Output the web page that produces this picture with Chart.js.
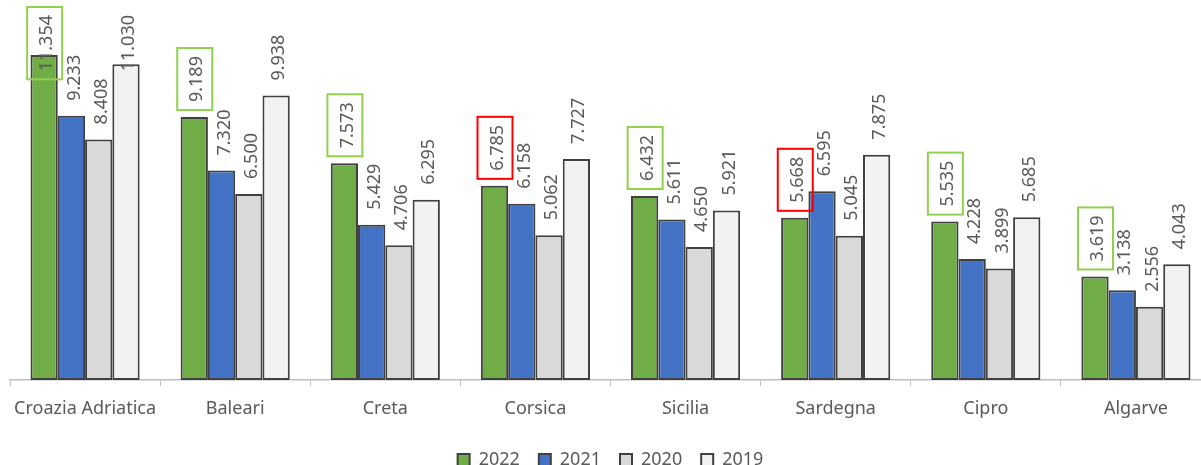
<!DOCTYPE html>
<html lang="it">
<head>
  <meta charset="UTF-8" />
  <title>Prezzi medi per destinazione</title>
  <script src="https://cdn.jsdelivr.net/npm/chart.js"></script>
  <style>
    html, body {
      margin: 0;
      padding: 0;
      background: #fff;
      overflow: hidden;
    }
    .chart-box {
      position: relative;
      width: 1212px;
      height: 481px;
    }
  </style>
</head>
<body>
  <div class="chart-box"><canvas id="chart"></canvas></div>

  <script>
    const categories = ["Croazia Adriatica", "Baleari", "Creta", "Corsica", "Sicilia", "Sardegna", "Cipro", "Algarve"];
    const years = ["2022", "2021", "2020", "2019"];
    const values2022 = [11.354, 9.189, 7.573, 6.785, 6.432, 5.668, 5.535, 3.619];
    const values2021 = [9.233, 7.320, 5.429, 6.158, 5.611, 6.595, 4.228, 3.138];
    const values2020 = [8.408, 6.500, 4.706, 5.062, 4.650, 5.045, 3.899, 2.556];
    const values2019 = [11.030, 9.938, 6.295, 7.727, 5.921, 7.875, 5.685, 4.043];
    // 2022 values marked as negative (red frame), the rest get a green frame
    const flagged2022 = [false, false, false, true, false, true, false, false];

    const FONT = '"Noto Sans", "Open Sans", sans-serif';
    const TEXT = '#595959';

    // rotated value labels above each bar, with a frame around the 2022 ones
    const valueLabels = {
      id: 'valueLabels',
      afterDatasetsDraw(chart) {
        const ctx = chart.ctx;
        ctx.save();
        ctx.font = '18px ' + FONT;
        ctx.fillStyle = TEXT;
        ctx.textAlign = 'left';
        ctx.textBaseline = 'middle';
        chart.data.datasets.forEach((ds, di) => {
          const meta = chart.getDatasetMeta(di);
          meta.data.forEach((bar, i) => {
            const txt = ds.data[i].toFixed(3);
            const w = ctx.measureText(txt).width;
            let bottom = bar.y - 15;
            if (bottom - w < 15) bottom = 15 + w;
            ctx.save();
            ctx.translate(bar.x + 3, bottom);
            ctx.rotate(-Math.PI / 2);
            ctx.fillText(txt, 0, 0);
            ctx.restore();
            if (di === 0) {
              ctx.lineWidth = 2;
              ctx.strokeStyle = flagged2022[i] ? '#ff0000' : '#92d050';
              ctx.strokeRect(bar.x - 17, bottom - w - 8, 35, w + 16);
            }
          });
        });
        ctx.restore();
      }
    };

    const barStyle = {
      borderColor: '#404040',
      borderWidth: 2,
      borderSkipped: false,
      categoryPercentage: 0.727,
      barPercentage: 1
    };

    new Chart(document.getElementById('chart'), {
      type: 'bar',
      data: {
        labels: categories,
        datasets: [
          { label: years[0], data: values2022, backgroundColor: '#70ad47', ...barStyle },
          { label: years[1], data: values2021, backgroundColor: '#4472c4', ...barStyle },
          { label: years[2], data: values2020, backgroundColor: '#d9d9d9', ...barStyle },
          { label: years[3], data: values2019, backgroundColor: '#f2f2f2', ...barStyle }
        ]
      },
      options: {
        responsive: true,
        maintainAspectRatio: false,
        animation: false,
        layout: { padding: { top: 8, left: 10, right: 1, bottom: 2 } },
        plugins: {
          tooltip: { enabled: false },
          legend: {
            position: 'bottom',
            labels: {
              font: { family: FONT, size: 18 },
              color: TEXT,
              boxWidth: 12,
              boxHeight: 12,
              padding: 19,
              useBorderRadius: false
            }
          }
        },
        scales: {
          x: {
            grid: {
              offset: true,
              drawOnChartArea: false,
              drawTicks: true,
              tickLength: 6,
              color: '#bfbfbf'
            },
            border: { color: '#bfbfbf', width: 1.5 },
            ticks: {
              font: { family: FONT, size: 18, lineHeight: '24px' },
              color: TEXT,
              padding: 11,
              maxRotation: 0
            }
          },
          y: {
            display: false,
            min: 0,
            max: 13
          }
        }
      },
      plugins: [valueLabels]
    });
  </script>
</body>
</html>
